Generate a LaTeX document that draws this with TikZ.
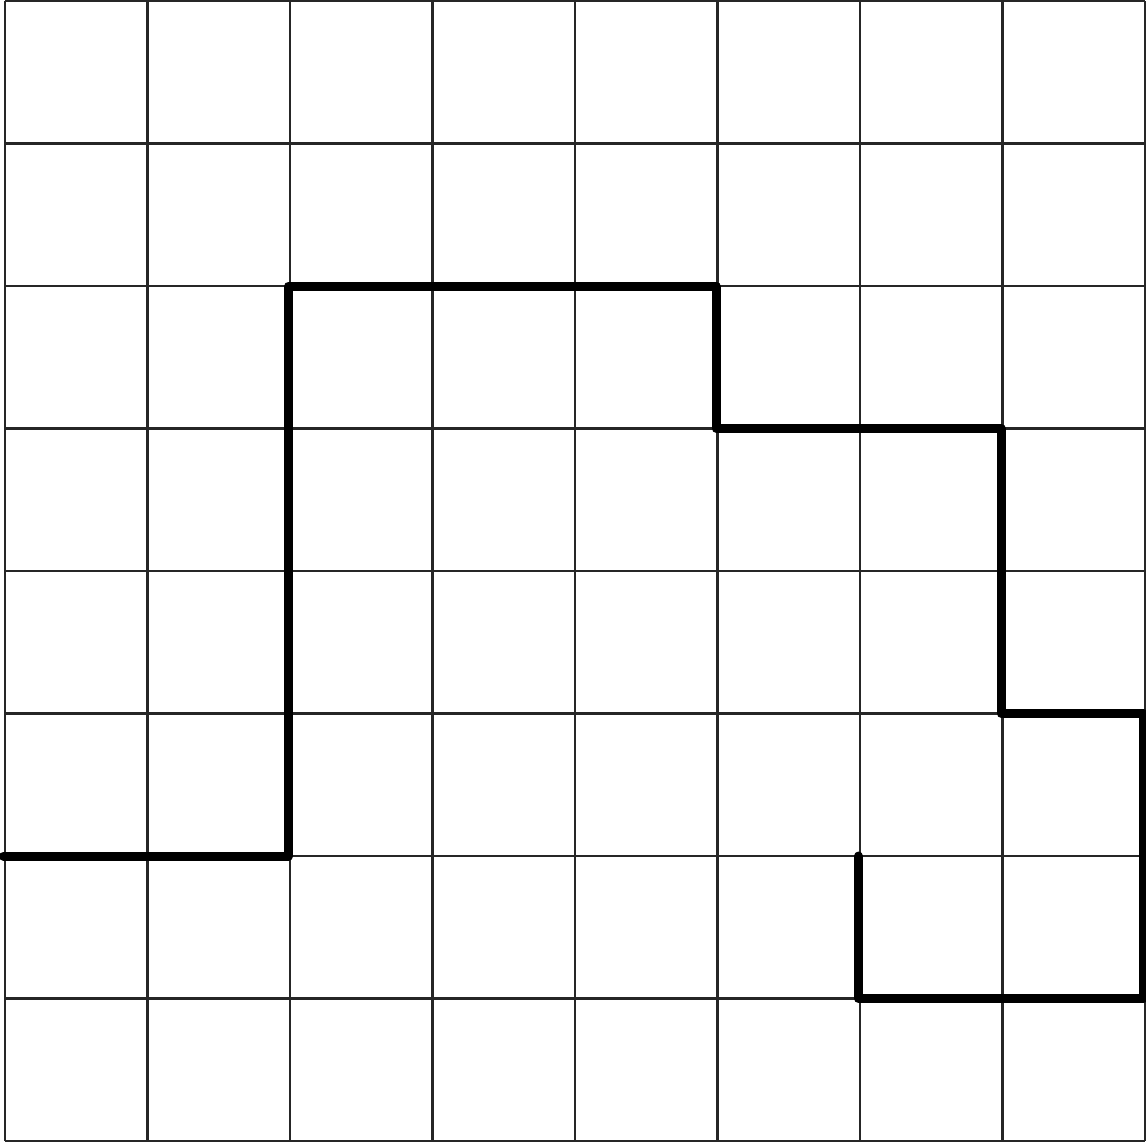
\documentclass[tikz,border=0pt]{standalone}
\begin{document}
\begin{tikzpicture}[
  gridline/.style={line width=0.45pt, draw=black!85},
  pathline/.style={line width=1.8pt, line cap=round, line join=round}
]
\useasboundingbox (-0.035,-0.014) rectangle (8.007,8.007);
\draw[gridline] (0,0) grid (8,8);
\begin{scope}[xshift=-0.3pt]
\coordinate (p0) at (0,2);
\coordinate (p1) at (2,2);
\coordinate (p2) at (2,6);
\coordinate (p3) at (5,6);
\coordinate (p4) at (5,5);
\coordinate (p5) at (7,5);
\coordinate (p6) at (7,3);
\coordinate (p7) at (8,3);
\coordinate (p8) at (8,1);
\coordinate (p9) at (6,1);
\coordinate (p10) at (6,2);
\draw[pathline] (p0) -- (p1) -- (p2) -- (p3) -- (p4) -- (p5) -- (p6) -- (p7) -- (p8) -- (p9) -- (p10);
\end{scope}
\end{tikzpicture}
\end{document}
